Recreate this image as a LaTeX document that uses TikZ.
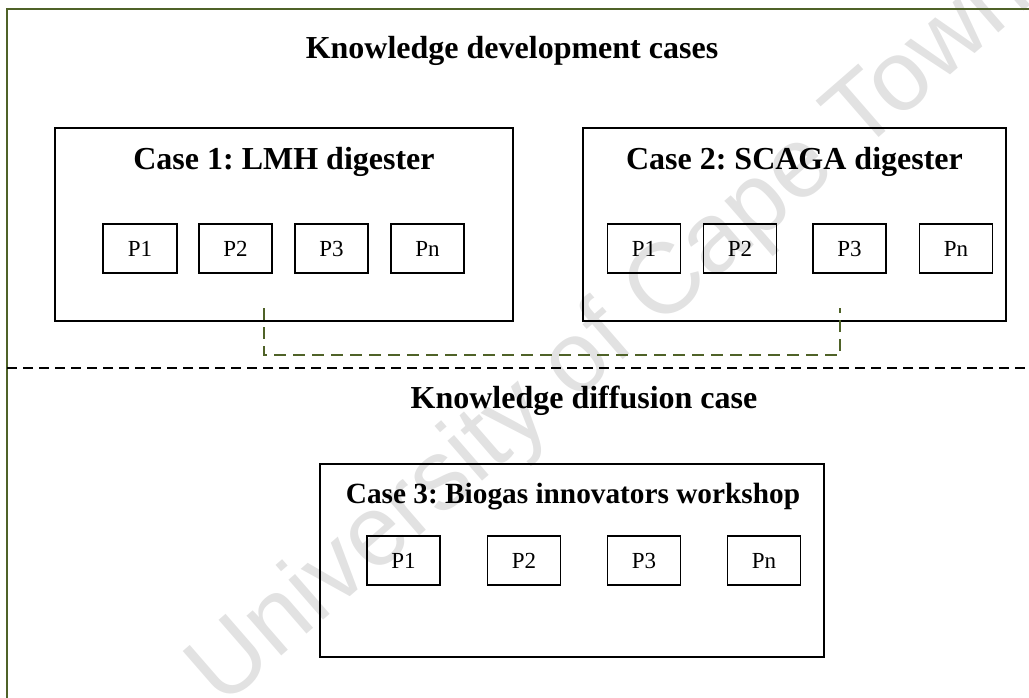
\documentclass[tikz,border=0pt]{standalone}
\usepackage{fontspec}
\setmainfont{Liberation Serif}
\newfontfamily\wmfont{Liberation Sans}
\frenchspacing
\definecolor{olivefr}{RGB}{79,98,40}
\definecolor{wmgray}{RGB}{226,226,226}
\tikzset{
  frameline/.style={draw=olivefr, line width=2.8pt},
  sepline/.style={draw=black, line width=2pt, dash pattern=on 10pt off 6pt},
  linkline/.style={draw=olivefr, line width=1.8pt, dash pattern=on 12pt off 7pt},
  casebox/.style={draw=black, line width=2.8pt, minimum height=193pt, inner sep=0pt},
  pbox/.style={draw=black, line width=1.3pt, minimum width=73pt, minimum height=49pt, inner sep=0pt,
    font=\fontsize{23}{27}\selectfont},
  headtxt/.style={anchor=base, inner sep=0pt, font=\fontsize{32}{38}\selectfont\bfseries},
  casetxt/.style={anchor=base, inner sep=0pt, font=\fontsize{32}{38}\selectfont\bfseries},
  casetxtb/.style={anchor=base, inner sep=0pt, font=\fontsize{29.3}{34}\selectfont\bfseries},
}
\begin{document}
\begin{tikzpicture}[x=1pt,y=-1pt]
\useasboundingbox (0,0) rectangle (1029,698);
% watermark
\node[rotate=41, text=wmgray, inner sep=0pt, font=\fontsize{100}{110}\selectfont\wmfont] (wm) at (612,335) {University of Cape Town};
% outer frame
\draw[frameline] (7,702) -- (7,9) -- (1033,9);
% headings
\node[headtxt] (h1) at (512,59) {Knowledge development cases};
\node[headtxt] (h2) at (584,408) {Knowledge diffusion case};
% case boxes
\node[casebox, minimum width=458pt] (c1) at (284,224.5) {};
\node[casebox, minimum width=423pt] (c2) at (794.5,224.5) {};
\node[casebox, minimum width=504pt] (c3) at (572,560.5) {};
\node[casetxt] (t1) at (284,170) {Case 1: LMH digester};
\node[casetxt] (t2) at (794.5,170) {Case 2: SCAGA digester};
\node[casetxtb] (t3) at (573,503) {Case 3: Biogas innovators workshop};
% participant boxes case 1
\node[pbox, minimum width=74pt] (a1) at (140,248.5) {P1};
\node[pbox] (a2) at (235.5,248.5) {P2};
\node[pbox] (a3) at (331.5,248.5) {P3};
\node[pbox] (an) at (427.5,248.5) {Pn};
% case 2
\node[pbox] (b1) at (644,248.5) {P1};
\node[pbox] (b2) at (740,248.5) {P2};
\node[pbox] (b3) at (849.5,248.5) {P3};
\node[pbox] (bn) at (956,248.5) {Pn};
% case 3
\node[pbox] (d1) at (403.5,560.5) {P1};
\node[pbox] (d2) at (524,560.5) {P2};
\node[pbox] (d3) at (644,560.5) {P3};
\node[pbox] (dn) at (764,560.5) {Pn};
% separator
\coordinate (s1) at (7,368);
\coordinate (s2) at (1033,368);
\draw[sepline] (s1) -- (s2);
% link between case 1 and case 2
\coordinate (g1) at (264,308);
\coordinate (g1b) at (264,355);
\coordinate (g2b) at (840,355);
\coordinate (g2) at (840,308);
\draw[linkline] (g1) -- (g1b) -- (g2b) -- (g2);
\end{tikzpicture}
\end{document}
